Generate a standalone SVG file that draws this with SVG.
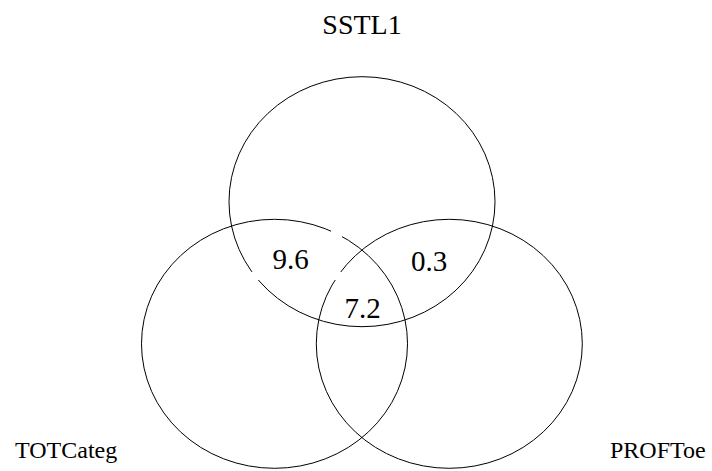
<svg xmlns="http://www.w3.org/2000/svg" width="712" height="471" viewBox="0 0 712 471">
<style>
.set{fill:none;stroke:#000;stroke-width:1}
</style>
<defs>
<mask id="gaps" maskUnits="userSpaceOnUse" x="0" y="0" width="712" height="471">
<rect x="0" y="0" width="712" height="471" fill="#fff"/>
<rect x="331" y="230" width="11" height="8" fill="#000"/>
<rect x="252" y="272" width="90" height="8" fill="#000"/>
</mask>
</defs>
<rect width="712" height="471" fill="#fff"/>
<g id="connectors"/>
<g font-family="Times New Roman, serif" fill="#000">
<g id="SSTL1">
<ellipse class="set" cx="362" cy="201.7" rx="133" ry="125" mask="url(#gaps)"/>
<text x="362" y="34" font-size="28" text-anchor="middle">SSTL1</text>
</g>
<g id="TOTCateg">
<ellipse class="set" cx="274.5" cy="343.8" rx="133" ry="124.5" mask="url(#gaps)"/>
<text x="15" y="458" font-size="24">TOTCateg</text>
</g>
<g id="PROFToe">
<ellipse class="set" cx="449.3" cy="343.8" rx="133" ry="124.5" mask="url(#gaps)"/>
<text x="610" y="458" font-size="24">PROFToe</text>
</g>
<g id="regions" font-size="29" text-anchor="middle">
<text x="290.5" y="269">9.6</text>
<text x="429" y="271">0.3</text>
<text x="362.5" y="317.5">7.2</text>
</g>
</g>
</svg>
